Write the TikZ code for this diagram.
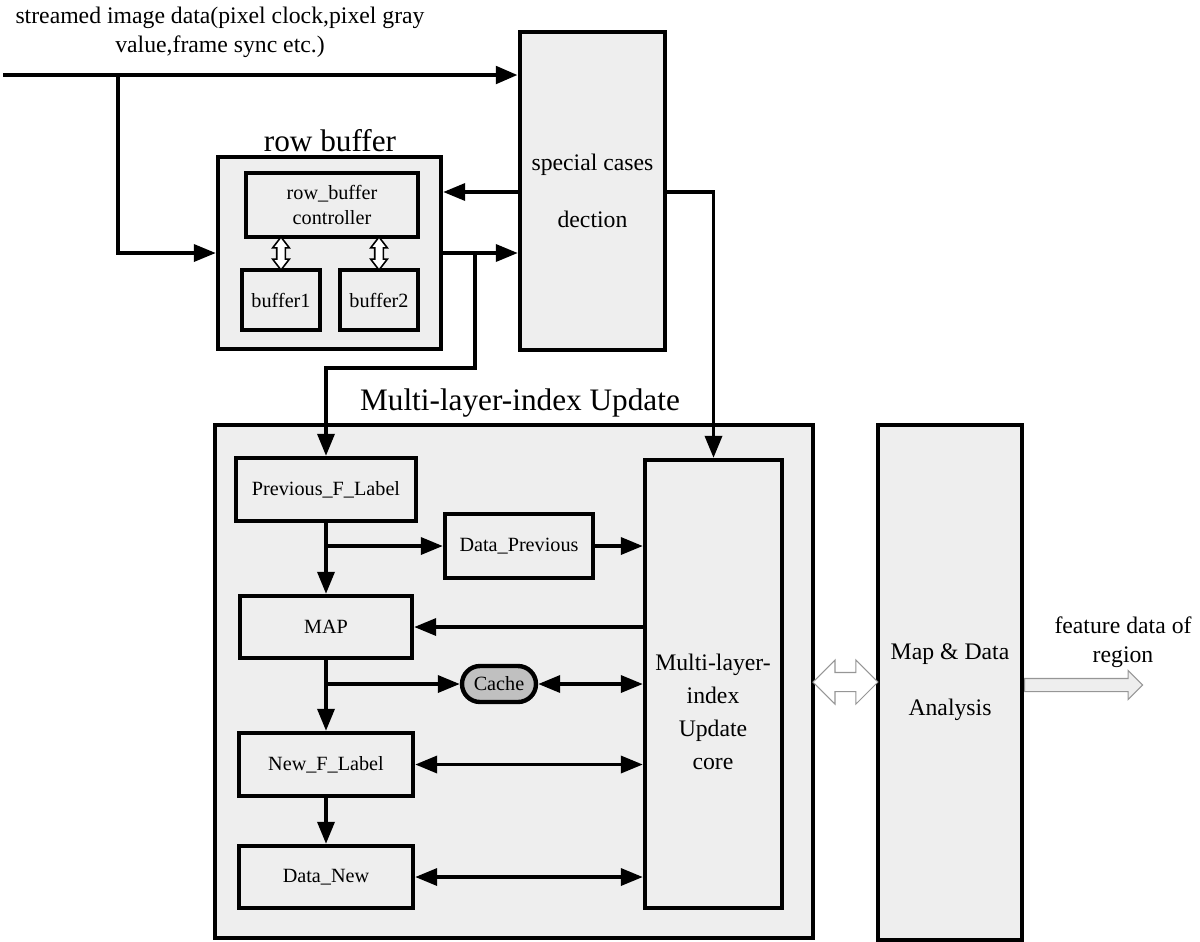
\documentclass[tikz,border=0pt]{standalone}
\usepackage{fontspec}
\setmainfont{Liberation Serif}
\usepackage{tikz}
\usetikzlibrary{arrows.meta,shapes.arrows,calc}
\definecolor{boxgray}{RGB}{238,238,238}
\definecolor{cachegray}{RGB}{192,192,192}
\definecolor{hollowgray}{RGB}{150,150,150}
\tikzset{
	blk/.style={draw, line width=2.5pt, fill=boxgray, inner sep=0pt, align=center, font=\fontsize{11.5}{14.2}\selectfont},
	conn/.style={line width=2pt, -{Triangle[length=0.44cm,width=0.34cm]}},
	both/.style={line width=2pt, {Triangle[length=0.44cm,width=0.34cm]}-{Triangle[length=0.44cm,width=0.34cm]}},
	txt/.style={align=center, font=\fontsize{13.5}{16.5}\selectfont},
	big/.style={font=\fontsize{17.8}{21}\selectfont},
	smalldbl/.style={double arrow, draw, fill=white, line width=0.9pt, rotate=90, minimum height=0.66cm, inner sep=0.07cm, double arrow head extend=0.08cm, double arrow tip angle=75},
	bigdbl/.style={double arrow, draw=hollowgray, fill=white, line width=0.6pt, minimum height=1.3cm, inner sep=0.18cm, double arrow head extend=0.25cm},
	outarr/.style={single arrow, draw=hollowgray, fill=boxgray, line width=0.6pt, minimum height=2.36cm, inner sep=0.12cm, single arrow head extend=0.16cm}
}
\begin{document}
\begin{tikzpicture}[x=0.02cm, y=-0.02cm]
\useasboundingbox (0,0) rectangle (1200,941);
% input side
\node[txt] (title) at (220,32) {streamed image data(pixel clock,pixel gray\\value,frame sync etc.)};
\node[blk, txt, minimum width=2.9cm, minimum height=6.36cm] (spec) at (592.5,191) {special cases\\[16pt]dection};
\node[blk, minimum width=4.46cm, minimum height=3.84cm] (rowbuf) at (329.5,253) {};
\node[big] (rowlbl) at (330,141) {row buffer};
\node[blk, minimum width=3.44cm, minimum height=1.28cm] (ctrl) at (332,205) {row\_buffer\\controller};
\node[blk, minimum width=1.56cm, minimum height=1.2cm] (buf1) at (281,300) {buffer1};
\node[blk, minimum width=1.56cm, minimum height=1.2cm] (buf2) at (379,300) {buffer2};
\node[smalldbl] (dbl1) at ($(buf1.north)!0.5!(buf1.north |- ctrl.south)$) {};
\node[smalldbl] (dbl2) at ($(buf2.north)!0.5!(buf2.north |- ctrl.south)$) {};

\coordinate (in) at (3,75);
\coordinate (tap) at (118,75);
\coordinate (fb) at (0,192);
\coordinate (tap2) at (rowbuf.east -| 475,0);
\draw[conn, line width=2.8pt] (in) -- (spec.west |- in);
\draw[conn] (tap) |- (rowbuf.west);
\draw[conn] (spec.west |- fb) -- (rowbuf.east |- fb);
\draw[conn] (rowbuf.east) -- (rowbuf.east -| spec.west);

% update block
\node[big] (mlulbl) at (520,403) {Multi-layer-index Update};
\node[blk, minimum width=11.96cm, minimum height=10.26cm] (mlu) at (514,681.5) {};
\node[blk, minimum width=3.6cm, minimum height=1.26cm] (prev) at (326,489.5) {Previous\_F\_Label};
\node[blk, minimum width=2.96cm, minimum height=1.28cm] (dprev) at (519,546) {Data\_Previous};
\node[blk, minimum width=3.44cm, minimum height=1.24cm] (map) at (326,627) {MAP};
\node[blk, fill=cachegray, rounded corners=0.36cm, minimum width=1.48cm, minimum height=0.72cm] (cache) at (499,684) {Cache};
\node[blk, minimum width=3.48cm, minimum height=1.26cm] (newf) at (326,764.5) {New\_F\_Label};
\node[blk, minimum width=3.48cm, minimum height=1.24cm] (dnew) at (326,877) {Data\_New};
\node[blk, minimum width=2.74cm, minimum height=8.96cm] (core) at (713.5,684) {};
\node[txt, font=\fontsize{13.5}{18.8}\selectfont] (coretxt) at (713,712) {Multi-layer-\\index\\Update\\core};

\draw[conn] (tap2) |- ($(prev.north)+(0,-88)$) -- (prev.north);
\draw[conn] (spec.east |- fb) -| (core.north);
\draw[conn] (prev.south) -- (map.north);
\draw[conn] (map.south) -- (newf.north);
\draw[conn] (newf.south) -- (dnew.north);
\draw[conn] (prev.south |- dprev.west) -- (dprev.west);
\draw[conn] (dprev.east) -- (dprev.east -| core.west);
\draw[conn] (core.west |- map.east) -- (map.east);
\draw[conn] (map.south |- cache.west) -- (cache.west);
\draw[both] (cache.east) -- (cache.east -| core.west);
\draw[both] (newf.east) -- (newf.east -| core.west);
\draw[both] (dnew.east) -- (dnew.east -| core.west);

% analysis
\node[blk, txt, minimum width=2.88cm, minimum height=10.3cm] (ana) at (950,682.5) {Map \& Data\\[15.4pt]Analysis};
\node[bigdbl] (link) at ($(mlu.east)!0.5!(ana.west)$) {};
\node[outarr, anchor=tail] (out) at (ana.east |- 0,685) {};
\node[txt] (featlbl) at (1123,642) {feature data of\\region};
\end{tikzpicture}
\end{document}
